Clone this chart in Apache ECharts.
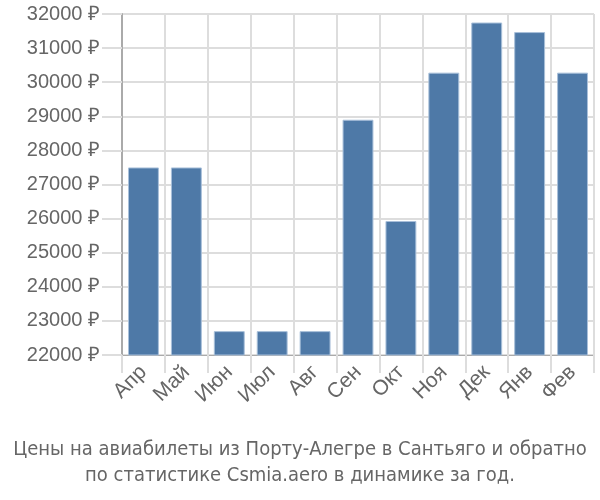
<!DOCTYPE html>
<html>
<head>
<meta charset="utf-8">
<script src="https://cdn.jsdelivr.net/npm/echarts@6/dist/echarts.min.js"></script>
<style>
  html, body { margin: 0; padding: 0; background: #fff; }
  #chart { width: 600px; height: 500px; }
</style>
</head>
<body>
<div id="chart"></div>
<script>
const months = ["Апр", "Май", "Июн", "Июл", "Авг", "Сен", "Окт", "Ноя", "Дек", "Янв", "Фев"];
const prices = [27500, 27500, 22700, 22700, 22700, 28900, 25930, 30280, 31750, 31470, 30280];

var chart = echarts.init(document.getElementById("chart"));

chart.setOption({
  animation: false,
  title: {
    text: "Цены на авиабилеты из Порту-Алегре в Сантьяго и обратно\nпо статистике Csmia.aero в динамике за год.",
    left: "center",
    top: 432,
    textStyle: {
      fontFamily: "DejaVu Sans Condensed",
      fontWeight: "normal",
      fontSize: 20,
      lineHeight: 26,
      color: "#666",
    },
  },
  grid: { left: 122, right: 6, top: 14, bottom: 145 },
  xAxis: {
    type: "category",
    data: months,
    axisLine: { lineStyle: { color: "#aaa", width: 1 } },
    axisTick: { show: true, length: 18, lineStyle: { color: "#ddd", width: 2 } },
    splitLine: { show: true, lineStyle: { color: "#ddd", width: 2 } },
    axisLabel: {
      rotate: 45,
      fontFamily: "Liberation Sans",
      fontSize: 21,
      color: "#666",
      margin: 14,
    },
  },
  yAxis: {
    type: "value",
    min: 22000,
    max: 32000,
    interval: 1000,
    axisLine: { show: true, lineStyle: { color: "#aaa", width: 2 } },
    axisTick: { show: true, length: 20, lineStyle: { color: "#ddd", width: 2 } },
    splitLine: { show: true, lineStyle: { color: "#ddd", width: 2 } },
    axisLabel: {
      formatter: function (v) { return v + " ₽"; },
      fontFamily: "Liberation Sans",
      fontSize: 20,
      color: "#666",
      margin: 22,
    },
  },
  series: [
    {
      type: "bar",
      data: prices,
      barWidth: "72%",
      itemStyle: {
        color: "#4e79a7",
        borderColor: "#a9c0da",
        borderWidth: 1,
      },
    },
  ],
});
</script>
</body>
</html>
